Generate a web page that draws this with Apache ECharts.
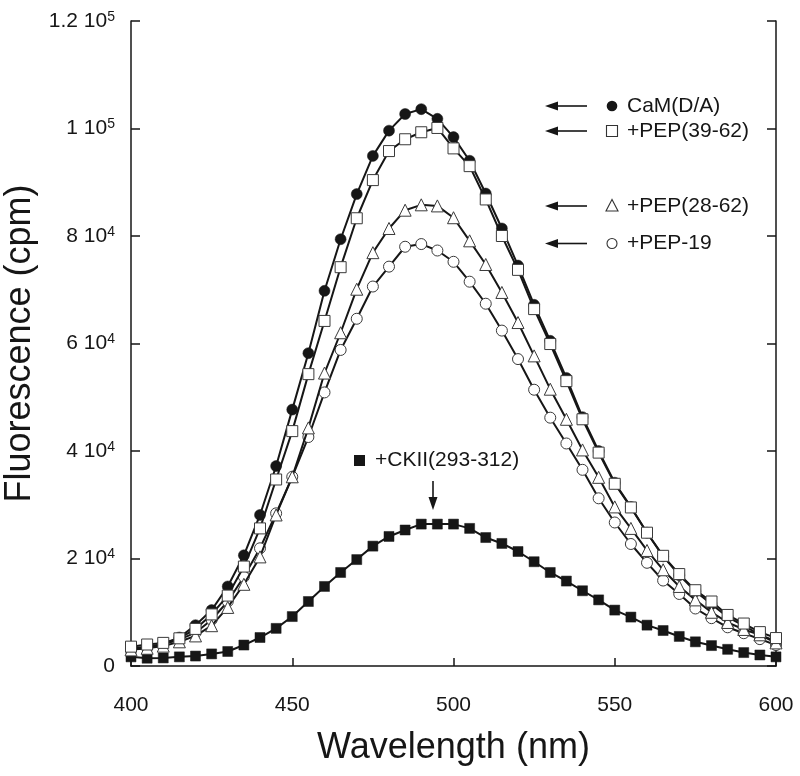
<!DOCTYPE html>
<html>
<head>
<meta charset="utf-8">
<script src="https://cdn.jsdelivr.net/npm/echarts@6/dist/echarts.min.js"></script>
<style>
html,body{margin:0;padding:0;background:#fff;}
#chart{width:800px;height:776px;}
</style>
</head>
<body>
<div id="chart"></div>
<script>
const wavelengths = [400,405,410,415,420,425,430,435,440,445,450,455,460,465,470,475,480,485,490,495,500,505,510,515,520,525,530,535,540,545,550,555,560,565,570,575,580,585,590,595,600];

const camDA = [3000,3400,4000,5300,7600,10400,14800,20600,28100,37200,47700,58200,69800,79400,87800,94900,99600,102700,103600,101800,98400,94000,87900,81400,74500,67200,60500,53600,46300,40000,34100,29600,24800,20400,16900,13900,11500,9100,7500,5800,4600];

const pep3962 = [3600,4000,4300,5150,6900,9600,13100,18500,25600,34700,43700,54300,64200,74200,83300,90400,95800,98000,99300,100100,96300,93000,86800,80000,73700,66400,59900,53000,45900,39700,33900,29500,24800,20500,17100,14100,12000,9500,7900,6300,5200];

const pep2862 = [3000,3300,3700,4500,5600,7500,10900,15200,20300,28100,35200,44300,54500,62000,70100,76900,81400,84800,85800,85600,83400,79100,74700,69500,63900,57700,51500,45900,40200,35100,29600,25600,21500,17900,14800,12300,10000,8100,6800,5800,4300];

const pep19 = [3300,3600,4100,4900,6200,8600,12000,16600,21900,28400,35200,42600,50900,58800,64600,70600,74300,78000,78500,77300,75200,71500,67400,62400,57100,51400,46200,41400,36500,31200,26700,22700,19200,15900,13400,10700,8900,7200,6100,5000,3900];

const ckii = [1700,1450,1500,1700,1850,2250,2700,3900,5300,7000,9200,12000,14800,17400,19800,22300,24100,25300,26400,26400,26400,25600,23900,22800,21300,19400,17400,15800,14000,12300,10400,9100,7600,6600,5500,4500,3800,3100,2500,2050,1700];

const seriesNames = ['CaM(D/A)', '+PEP(39-62)', '+PEP(28-62)', '+PEP-19', '+CKII(293-312)'];

const xTicks = [400,450,500,550,600];
const yTickValues = [0,20000,40000,60000,80000,100000,120000];
const yTickMant = ['0','2','4','6','8','1','1.2'];
const yTickExp = ['','4','4','4','4','5','5'];

const FONT = 'Liberation Sans, Arial, Helvetica, sans-serif';
const INK = '#161616';

function pairs(vals){ return wavelengths.map((w,i)=>[w, vals[i]]); }

const chart = echarts.init(document.getElementById('chart'), null, {renderer:'canvas'});

function lineSeries(name, vals, symbol, size, filled, z){
  return {
    name, type:'line', data: pairs(vals), z,
    symbol, symbolSize: size, showAllSymbol: true,
    lineStyle:{color:INK, width:2},
    itemStyle: filled ? {color:INK, borderColor:INK, borderWidth:0.5}
                      : {color:'#ffffff', borderColor:'#3a3a3a', borderWidth:1},
    emphasis:{disabled:true}, silent:true, animation:false
  };
}

// annotation geometry (pixels)
const annX = 612, textX = 627;
const annY = [106, 131, 206, 243.5];
function leftArrow(y){
  return [
    {type:'line', shape:{x1:556, y1:y, x2:587, y2:y}, style:{stroke:INK, lineWidth:1.6}},
    {type:'polygon', shape:{points:[[545,y],[558,y-4.5],[558,y+4.5]]}, style:{fill:INK}}
  ];
}
const graphics = [];
annY.forEach(y=>graphics.push(...leftArrow(y)));
graphics.push(
  {type:'circle', shape:{cx:annX, cy:annY[0], r:5.3}, style:{fill:INK}},
  {type:'rect', shape:{x:annX-5.5, y:annY[1]-5.5, width:11, height:11}, style:{fill:'#fff', stroke:'#333', lineWidth:1.1}},
  {type:'polygon', shape:{points:[[annX,annY[2]-6.5],[annX-6,annY[2]+5],[annX+6,annY[2]+5]]}, style:{fill:'#fff', stroke:'#333', lineWidth:1.1}},
  {type:'circle', shape:{cx:annX, cy:annY[3], r:5}, style:{fill:'#fff', stroke:'#333', lineWidth:1.1}}
);
seriesNames.slice(0,4).forEach((n,i)=>{
  graphics.push({type:'text', x:textX, y:annY[i], style:{text:n, fontSize:21, fontFamily:FONT, fill:INK, verticalAlign:'middle', align:'left'}});
});
// CKII label
graphics.push(
  {type:'rect', shape:{x:354, y:455, width:11, height:11}, style:{fill:INK}},
  {type:'text', x:375, y:460.5, style:{text:seriesNames[4], fontSize:21, fontFamily:FONT, fill:INK, verticalAlign:'middle', align:'left'}},
  {type:'line', shape:{x1:433, y1:481, x2:433, y2:498}, style:{stroke:INK, lineWidth:1.6}},
  {type:'polygon', shape:{points:[[433,510],[428.5,497],[437.5,497]]}, style:{fill:INK}}
);

const yAxisCommon = {
  type:'value', min:0, max:120000, interval:20000,
  axisLine:{show:true, lineStyle:{color:INK, width:1.5}},
  axisTick:{show:true, inside:true, length:9, lineStyle:{color:INK, width:1.5}},
  splitLine:{show:false}
};

chart.setOption({
  animation:false,
  backgroundColor:'#ffffff',
  grid:{left:131, right:24, top:21, bottom:110, containLabel:false, outerBoundsMode:'none'},
  xAxis:{
    type:'value', min:400, max:600, interval:50,
    axisLine:{show:true, onZero:false, lineStyle:{color:INK, width:1.5}},
    axisTick:{show:true, inside:true, length:8, lineStyle:{color:INK, width:1.5}},
    splitLine:{show:false},
    axisLabel:{fontSize:21, fontFamily:FONT, color:INK, margin:29,
      formatter:(v)=> xTicks.includes(v) ? String(v) : ''},
    name:'Wavelength (nm)', nameLocation:'middle', nameGap:64,
    nameTextStyle:{fontSize:36, fontFamily:FONT, color:INK}
  },
  yAxis:[
    Object.assign({}, yAxisCommon, {
      position:'left',
      axisLabel:{margin:16, color:INK, fontFamily:FONT, fontSize:21,
        formatter:(v)=>{
          const i = yTickValues.indexOf(v);
          if(i<0) return '';
          if(!yTickExp[i]) return '{m|'+yTickMant[i]+'}';
          return '{m|'+yTickMant[i]+' 10}{s|'+yTickExp[i]+'}';
        },
        rich:{
          m:{fontSize:21, fontFamily:FONT, color:INK, lineHeight:22},
          s:{fontSize:14, fontFamily:FONT, color:INK, lineHeight:14, verticalAlign:'top'}
        }
      },
      name:'Fluorescence (cpm)', nameLocation:'middle', nameGap:85,
      nameTextStyle:{fontSize:36, fontFamily:FONT, color:INK}
    }),
    Object.assign({}, yAxisCommon, {position:'right', axisLabel:{show:false}})
  ],
  series:[
    lineSeries(seriesNames[4], ckii, 'rect', 10, true, 2),
    lineSeries(seriesNames[3], pep19, 'circle', 11, false, 3),
    lineSeries(seriesNames[0], camDA, 'circle', 11, true, 4),
    lineSeries(seriesNames[2], pep2862, 'triangle', 12, false, 5),
    lineSeries(seriesNames[1], pep3962, 'rect', 11, false, 6)
  ],
  graphic: graphics
});
</script>
</body>
</html>
